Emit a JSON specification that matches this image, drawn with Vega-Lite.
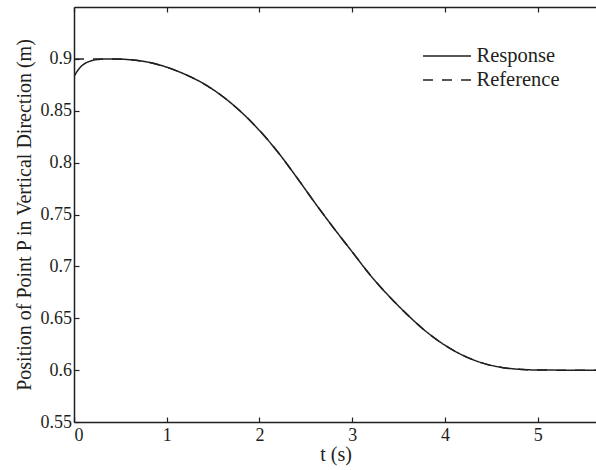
{
  "$schema": "https://vega.github.io/schema/vega-lite/v6.json",
  "width": 523,
  "height": 415,
  "autosize": {"type": "none"},
  "padding": {"left": 74, "top": 7, "right": 0, "bottom": 48},
  "background": "white",
  "config": {
    "view": {"stroke": null},
    "font": "Liberation Serif",
    "axis": {
      "labelFont": "Liberation Serif",
      "titleFont": "Liberation Serif",
      "labelFontSize": 18,
      "titleFontSize": 20,
      "titleFontWeight": "normal",
      "labelColor": "#231f20",
      "titleColor": "#231f20",
      "domainColor": "#231f20",
      "domainWidth": 1.5,
      "tickColor": "#231f20",
      "tickSize": -5,
      "tickWidth": 1.2,
      "grid": false
    },
    "legend": {
      "labelFont": "Liberation Serif",
      "labelFontSize": 20.5,
      "labelColor": "#231f20"
    }
  },
  "data": {
    "values": [
      {"t": 0.0, "value": 0.883, "series": "Response"},
      {"t": 0.02, "value": 0.886, "series": "Response"},
      {"t": 0.05, "value": 0.890, "series": "Response"},
      {"t": 0.1, "value": 0.8945, "series": "Response"},
      {"t": 0.15, "value": 0.897, "series": "Response"},
      {"t": 0.2, "value": 0.8985, "series": "Response"},
      {"t": 0.3, "value": 0.8997, "series": "Response"},
      {"t": 0.4, "value": 0.9, "series": "Response"},
      {"t": 0.6, "value": 0.8992, "series": "Response"},
      {"t": 0.8, "value": 0.8968, "series": "Response"},
      {"t": 1.0, "value": 0.892, "series": "Response"},
      {"t": 1.2, "value": 0.885, "series": "Response"},
      {"t": 1.4, "value": 0.876, "series": "Response"},
      {"t": 1.6, "value": 0.864, "series": "Response"},
      {"t": 1.8, "value": 0.849, "series": "Response"},
      {"t": 2.0, "value": 0.831, "series": "Response"},
      {"t": 2.2, "value": 0.810, "series": "Response"},
      {"t": 2.4, "value": 0.786, "series": "Response"},
      {"t": 2.6, "value": 0.761, "series": "Response"},
      {"t": 2.8, "value": 0.737, "series": "Response"},
      {"t": 3.0, "value": 0.714, "series": "Response"},
      {"t": 3.2, "value": 0.691, "series": "Response"},
      {"t": 3.4, "value": 0.671, "series": "Response"},
      {"t": 3.6, "value": 0.653, "series": "Response"},
      {"t": 3.8, "value": 0.637, "series": "Response"},
      {"t": 4.0, "value": 0.624, "series": "Response"},
      {"t": 4.2, "value": 0.614, "series": "Response"},
      {"t": 4.4, "value": 0.607, "series": "Response"},
      {"t": 4.6, "value": 0.6028, "series": "Response"},
      {"t": 4.8, "value": 0.6008, "series": "Response"},
      {"t": 5.0, "value": 0.6001, "series": "Response"},
      {"t": 5.2, "value": 0.6, "series": "Response"},
      {"t": 5.64, "value": 0.6, "series": "Response"},
      {"t": 0.0, "value": 0.9, "series": "Reference"},
      {"t": 0.2, "value": 0.9, "series": "Reference"},
      {"t": 0.4, "value": 0.9, "series": "Reference"},
      {"t": 0.6, "value": 0.8992, "series": "Reference"},
      {"t": 0.8, "value": 0.8968, "series": "Reference"},
      {"t": 1.0, "value": 0.892, "series": "Reference"},
      {"t": 1.2, "value": 0.885, "series": "Reference"},
      {"t": 1.4, "value": 0.876, "series": "Reference"},
      {"t": 1.6, "value": 0.864, "series": "Reference"},
      {"t": 1.8, "value": 0.849, "series": "Reference"},
      {"t": 2.0, "value": 0.831, "series": "Reference"},
      {"t": 2.2, "value": 0.810, "series": "Reference"},
      {"t": 2.4, "value": 0.786, "series": "Reference"},
      {"t": 2.6, "value": 0.761, "series": "Reference"},
      {"t": 2.8, "value": 0.737, "series": "Reference"},
      {"t": 3.0, "value": 0.714, "series": "Reference"},
      {"t": 3.2, "value": 0.691, "series": "Reference"},
      {"t": 3.4, "value": 0.671, "series": "Reference"},
      {"t": 3.6, "value": 0.653, "series": "Reference"},
      {"t": 3.8, "value": 0.637, "series": "Reference"},
      {"t": 4.0, "value": 0.624, "series": "Reference"},
      {"t": 4.2, "value": 0.614, "series": "Reference"},
      {"t": 4.4, "value": 0.607, "series": "Reference"},
      {"t": 4.6, "value": 0.6028, "series": "Reference"},
      {"t": 4.8, "value": 0.6008, "series": "Reference"},
      {"t": 5.0, "value": 0.6001, "series": "Reference"},
      {"t": 5.2, "value": 0.6, "series": "Reference"},
      {"t": 5.64, "value": 0.6, "series": "Reference"}
    ]
  },
  "layer": [
    {
      "mark": {"type": "line", "color": "#231f20", "strokeWidth": 1.5, "interpolate": "monotone", "clip": true},
      "encoding": {
        "x": {
          "field": "t", "type": "quantitative",
          "scale": {"domain": [0, 5.64], "nice": false, "zero": false},
          "axis": {"values": [0, 1, 2, 3, 4, 5], "title": "t (s)", "labelPadding": 9, "titlePadding": 0, "orient": "bottom"}
        },
        "y": {
          "field": "value", "type": "quantitative",
          "scale": {"domain": [0.55, 0.95], "nice": false, "zero": false},
          "axis": {"values": [0.55, 0.6, 0.65, 0.7, 0.75, 0.8, 0.85, 0.9], "format": ".2~f", "title": "Position of Point P in Vertical Direction (m)", "labelPadding": 7.5, "titlePadding": 6}
        },
        "strokeDash": {
          "field": "series", "type": "nominal",
          "scale": {"domain": ["Response", "Reference"], "range": [[1, 0], [10, 9]]},
          "legend": {"title": null, "orient": "none", "legendX": 362, "legendY": 38, "symbolType": "M-2.4,0H2.4", "symbolSize": 400, "symbolStrokeColor": "#231f20", "symbolStrokeWidth": 1.3, "labelOffset": 18.5, "rowPadding": 2}
        }
      }
    },
    {
      "mark": {"type": "line", "opacity": 0},
      "encoding": {
        "x": {
          "field": "t", "type": "quantitative",
          "axis": {"orient": "top", "values": [0, 1, 2, 3, 4, 5], "labels": false, "title": null}
        },
        "y": {"field": "value", "type": "quantitative"}
      }
    }
  ],
  "resolve": {"axis": {"x": "independent"}}
}
